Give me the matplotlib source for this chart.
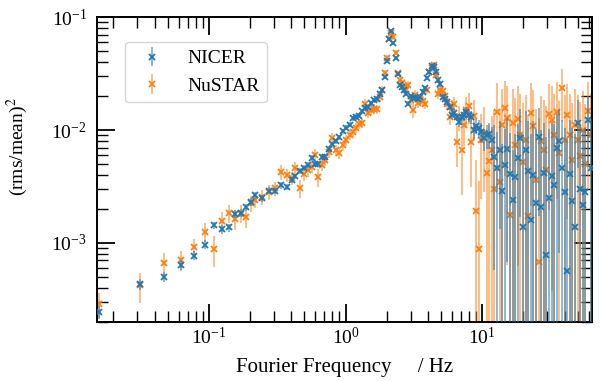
import numpy as np
import matplotlib
matplotlib.use('Agg')
import matplotlib.pyplot as plt
import matplotlib.colors as mcolors

# ------------------------------------------------------------------
# Power spectra (rms/mean)^2 of both instruments, same frequency bins
# ------------------------------------------------------------------
freq = [0.0156, 0.0313, 0.0469, 0.0625, 0.0781, 0.0938, 0.109, 0.125, 0.141, 0.156,
        0.172, 0.188, 0.203, 0.219,
        0.243, 0.274, 0.305, 0.336, 0.370, 0.403, 0.426, 0.463, 0.495, 0.530,
        0.564, 0.596, 0.632, 0.671, 0.711, 0.755, 0.800, 0.849, 0.901, 0.955,
        1.014, 1.075, 1.131, 1.190, 1.252, 1.316, 1.384, 1.457, 1.532, 1.611,
        1.695, 1.783, 1.859, 1.940, 2.013, 2.086, 2.161, 2.239, 2.320, 2.403,
        2.494, 2.584, 2.672, 2.768, 2.873, 2.987, 3.109, 3.237, 3.372, 3.511,
        3.656, 3.807, 3.958, 4.106, 4.261, 4.422, 4.589, 4.763, 4.943, 5.130,
        5.333, 5.544, 5.763, 5.999, 6.247, 6.505, 6.774, 7.054, 7.345, 7.661,
        7.991, 8.335, 8.693, 9.067, 9.458, 9.865, 10.29, 10.75, 11.23, 11.74,
        12.26, 12.81, 13.39, 13.99, 14.61, 15.27, 15.95, 16.67, 17.41, 18.20,
        19.01, 19.86, 20.75, 21.68, 22.65, 23.66, 24.72, 25.83, 26.98, 28.20,
        29.46, 30.78, 32.16, 33.60, 35.10, 36.67, 38.31, 40.03, 41.82, 43.69,
        45.65, 47.69, 49.83, 52.06, 54.39, 56.82, 59.37, 62.03]

nicer_power = [2.44e-4, 4.28e-4, 5.00e-4, 6.43e-4, 7.72e-4, 9.66e-4, 1.43e-3, 1.32e-3, 1.37e-3, 1.82e-3,
               1.85e-3, 2.06e-3, 2.31e-3, 2.64e-3,
               2.49e-3, 2.90e-3, 2.90e-3, 3.26e-3, 3.13e-3, 3.61e-3, 3.88e-3, 4.37e-3, 4.58e-3, 4.90e-3,
               5.71e-3, 5.05e-3, 5.00e-3, 5.83e-3, 5.80e-3, 6.79e-3,
               7.52e-3, 8.00e-3, 8.67e-3, 9.79e-3, 1.048e-2, 1.12e-2, 1.27e-2, 1.30e-2, 1.34e-2, 1.47e-2,
               1.57e-2, 1.59e-2, 1.73e-2, 1.84e-2, 1.87e-2, 2.08e-2, 2.26e-2,
               2.93e-2, 4.10e-2, 6.43e-2, 7.56e-2, 5.97e-2, 4.36e-2, 3.13e-2, 2.50e-2, 2.39e-2, 2.26e-2,
               2.08e-2,
               1.72e-2, 2.00e-2, 1.93e-2, 1.91e-2, 1.90e-2, 1.97e-2, 2.19e-2, 2.35e-2, 2.89e-2, 3.29e-2,
               3.68e-2, 3.66e-2, 3.26e-2, 2.77e-2, 2.55e-2, 1.97e-2, 1.87e-2, 1.78e-2, 1.61e-2, 1.36e-2,
               1.41e-2, 1.31e-2,
               1.18e-2, 1.31e-2, 1.36e-2, 1.45e-2, 1.35e-2, 1.31e-2, 1.00e-2, 1.09e-2, 1.04e-2, 9.60e-3,
               8.45e-3, 9.03e-3, 9.22e-3, 8.16e-3,
               5.80e-3, 4.58e-3, 6.65e-3, 2.89e-3, 4.90e-3, 6.75e-3, 4.08e-3, 2.38e-3, 3.86e-3, 5.71e-3,
               8.50e-3,
               1.39e-3, 6.65e-3, 4.34e-3, 1.60e-3, 4.00e-3, 2.25e-3, 8.72e-3, 2.08e-3, 4.14e-3, 7.83e-4,
               2.50e-3, 3.92e-3, 3.23e-3, 6.89e-3, 8.07e-3, 4.58e-3, 2.84e-3, 5.69e-4, 4.08e-3, 2.35e-3,
               1.39e-3, 1.15e-2, 2.99e-3, 2.17e-3, 2.84e-3, 1.23e-2, 4.64e-3]

# fractional 1-sigma uncertainty of each NICER bin
nicer_frac_err = [0.13, 0.11, 0.10, 0.10, 0.09, 0.09, 0.08, 0.09, 0.08, 0.08,
                  0.08, 0.07, 0.08, 0.07,
                  0.07, 0.07, 0.06, 0.07, 0.06, 0.06, 0.06, 0.06, 0.06, 0.06,
                  0.06, 0.06, 0.06, 0.05, 0.06, 0.05,
                  0.05, 0.05, 0.05, 0.05, 0.05, 0.05, 0.05, 0.05, 0.05, 0.05,
                  0.05, 0.05, 0.05, 0.05, 0.05, 0.04, 0.04,
                  0.04, 0.04, 0.04, 0.04, 0.04, 0.04, 0.04, 0.04, 0.04, 0.04,
                  0.04,
                  0.05, 0.05, 0.05, 0.05, 0.05, 0.05, 0.05, 0.05, 0.04, 0.04,
                  0.04, 0.04, 0.04, 0.05, 0.05, 0.06, 0.06, 0.06, 0.07, 0.07,
                  0.08, 0.08,
                  0.10, 0.10, 0.11, 0.11, 0.12, 0.13, 0.16, 0.16, 0.18, 0.20,
                  0.22, 0.24, 0.26, 0.30,
                  0.9, 1.1, 0.8, 1.6, 1.1, 0.9, 1.3, 1.8, 1.4, 1.0,
                  0.8,
                  5.6, 1.2, 1.8, 4.8, 2.0, 3.5, 0.8, 3.8, 1.8, 10.0,
                  3.1, 2.0, 2.5, 1.0, 0.9, 1.7, 2.7, 13.7, 2.0, 3.4,
                  5.6, 0.6, 2.6, 3.6, 2.7, 0.6, 1.7]

nustar_power = [2.87e-4, 4.19e-4, 6.61e-4, 7.03e-4, 9.16e-4, 1.26e-3, 8.80e-4, 1.57e-3, 1.83e-3, 1.62e-3,
                1.82e-3, 1.71e-3, 2.25e-3, 2.40e-3,
                2.57e-3, 2.84e-3, 3.05e-3, 4.28e-3, 4.00e-3, 3.76e-3, 4.58e-3, 3.07e-3, 4.08e-3, 4.43e-3,
                4.71e-3, 6.01e-3, 3.80e-3, 4.90e-3, 5.43e-3, 6.43e-3,
                8.50e-3, 6.65e-3, 6.26e-3, 7.37e-3, 8.16e-3, 9.03e-3, 9.66e-3, 1.04e-2, 1.13e-2, 1.15e-2,
                1.72e-2, 1.42e-2, 1.50e-2, 1.55e-2, 1.53e-2, 1.96e-2, 2.29e-2,
                3.21e-2, 4.40e-2, 6.48e-2, 7.22e-2, 6.69e-2, 4.87e-2, 3.18e-2, 2.77e-2, 2.62e-2, 2.42e-2,
                2.26e-2,
                2.50e-2, 1.84e-2, 1.52e-2, 2.04e-2, 1.74e-2, 1.84e-2, 1.81e-2, 1.72e-2, 2.26e-2, 3.28e-2,
                3.52e-2, 3.76e-2, 3.07e-2, 2.11e-2, 2.26e-2, 2.24e-2, 2.00e-2, 1.72e-2, 1.31e-2, 1.61e-2,
                1.72e-2, 7.83e-3,
                1.30e-2, 6.65e-3, 1.11e-2, 1.50e-2, 1.63e-2, 7.83e-3, 1.33e-2, 1.92e-3, 8.85e-4, 8.16e-3,
                9.35e-3, 4.19e-3, 5.32e-3, 6.65e-3,
                3.01e-3, 1.45e-2, 3.49e-3, 1.11e-2, 1.56e-2, 1.27e-2, 1.77e-3, 1.15e-2, 7.37e-3, 1.26e-2,
                9.03e-3, 5.24e-3, 8.16e-3, 1.74e-3, 1.41e-2, 1.09e-2, 3.61e-3, 6.72e-4, 8.04e-3, 6.65e-3,
                4.43e-3, 1.39e-2, 1.24e-2, 9.03e-3, 1.45e-2, 6.22e-3, 2.34e-2, 8.16e-3, 1.36e-2, 9.03e-3,
                5.43e-3, 1.11e-2, 8.16e-3, 5.93e-3, 1.00e-2, 5.00e-3, 1.49e-2, 9.03e-3]

# fractional 1-sigma uncertainty of each NuSTAR bin
nustar_frac_err = [0.25, 0.30, 0.22, 0.20, 0.18, 0.20, 0.30, 0.20, 0.18, 0.20,
                   0.18, 0.20, 0.16, 0.15,
                   0.15, 0.15, 0.14, 0.15, 0.14, 0.14, 0.13, 0.18, 0.14, 0.13,
                   0.12, 0.12, 0.18, 0.12, 0.12, 0.12,
                   0.11, 0.12, 0.12, 0.11, 0.11, 0.10, 0.10, 0.10, 0.10, 0.10,
                   0.10, 0.10, 0.10, 0.10, 0.09, 0.09, 0.08,
                   0.06, 0.06, 0.05, 0.05, 0.05, 0.05, 0.06, 0.07, 0.07, 0.07,
                   0.07,
                   0.08, 0.10, 0.15, 0.10, 0.10, 0.10, 0.10, 0.10, 0.08, 0.07,
                   0.07, 0.07, 0.08, 0.10, 0.10, 0.10, 0.10, 0.12, 0.15, 0.15,
                   0.15, 0.40,
                   0.25, 0.60, 0.35, 0.30, 0.30, 0.60, 0.40, 1.8, 3.0, 0.70,
                   0.70, 1.4, 1.1, 1.0,
                   4.0, 0.8, 3.4, 1.1, 0.75, 0.95, 6.8, 1.0, 1.6, 0.95,
                   1.3, 2.3, 1.5, 6.9, 0.85, 1.1, 3.3, 18.0, 1.5, 1.8,
                   2.7, 0.86, 0.97, 1.3, 0.83, 1.9, 0.5, 1.5, 0.88, 1.3,
                   2.2, 1.1, 1.5, 2.0, 1.2, 2.4, 0.8, 1.3]

instruments = ['NICER', 'NuSTAR']
colours = ['C0', 'C1']
layers = [3, 2]   # NICER drawn over NuSTAR

# ------------------------------------------------------------------
# Figure
# ------------------------------------------------------------------
plt.rcParams['font.family'] = 'serif'
plt.rcParams['font.serif'] = ['Liberation Serif']
plt.rcParams['mathtext.fontset'] = 'stix'
plt.rcParams['font.size'] = 14

fig = plt.figure(figsize=(6.01, 3.81), dpi=100)
ax = fig.add_axes([0.1609, 0.1556, 0.8233, 0.799])

f = np.array(freq)
for power, frac, colour, name, z in zip([nicer_power, nustar_power],
                                        [nicer_frac_err, nustar_frac_err],
                                        colours, instruments, layers):
    p = np.array(power)
    ax.errorbar(f, p, yerr=p * np.array(frac), fmt='x', color=colour,
                ecolor=mcolors.to_rgba(colour, 0.6), ms=3.8, mew=1.3,
                elinewidth=1.2, label=name, zorder=z)

ax.set_xscale('log')
ax.set_yscale('log', nonpositive='clip')
ax.set_xlim(0.0151, 63.0)
ax.set_ylim(2.0e-4, 0.1)

ax.tick_params(which='both', direction='in', top=True, right=True)
ax.tick_params(which='major', length=13, width=1.3)
ax.tick_params(which='minor', length=7.7, width=1.0)
ax.tick_params(axis='y', which='major', pad=7)
ax.tick_params(axis='x', which='major', pad=4)
for spine in ax.spines.values():
    spine.set_linewidth(1.4)

ax.set_xlabel('Fourier Frequency     / Hz', fontsize=15)
ax.xaxis.set_label_coords(0.5, -0.12)
ax.set_ylabel('(rms/mean)$^2$', fontsize=14)
ax.yaxis.set_label_coords(-0.135, 0.574)

ax.legend(loc='upper left', bbox_to_anchor=(0.0572, 0.919), borderaxespad=0,
          fontsize=14)

fig.savefig('out.png', dpi=100)
